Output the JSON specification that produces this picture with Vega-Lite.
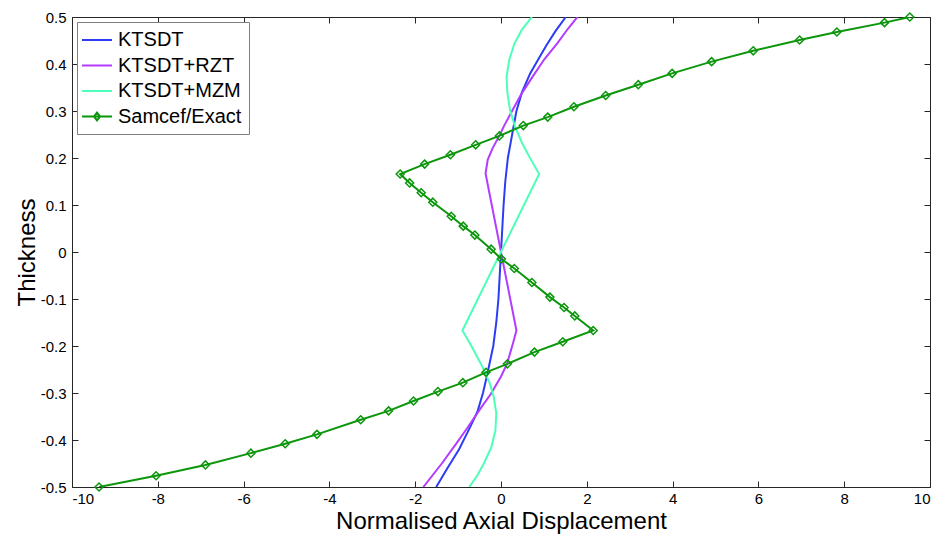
{
  "$schema": "https://vega.github.io/schema/vega-lite/v6.json",
  "width": 858,
  "height": 470,
  "autosize": {"type": "none"},
  "padding": {"left": 72, "top": 17, "right": 11, "bottom": 50},
  "background": "white",
  "config": {
    "font": "Liberation Sans",
    "view": {"stroke": null},
    "axis": {
      "domainColor": "#262626",
      "tickColor": "#262626",
      "grid": false,
      "labelColor": "#000000",
      "titleColor": "#000000",
      "labelFont": "Liberation Sans",
      "labelFontSize": 15,
      "titleFont": "Liberation Sans",
      "titleFontSize": 24,
      "titleFontWeight": "normal",
      "tickSize": -6,
      "domainWidth": 1,
      "tickWidth": 1
    }
  },
  "data": {
    "values": [
      {"s": "KTSDT", "o": 1, "y": -0.5, "x": -1.51},
      {"s": "KTSDT", "o": 2, "y": -0.46, "x": -1.25},
      {"s": "KTSDT", "o": 3, "y": -0.42, "x": -0.98},
      {"s": "KTSDT", "o": 4, "y": -0.38, "x": -0.76},
      {"s": "KTSDT", "o": 5, "y": -0.34, "x": -0.55},
      {"s": "KTSDT", "o": 6, "y": -0.3, "x": -0.42},
      {"s": "KTSDT", "o": 7, "y": -0.26, "x": -0.32},
      {"s": "KTSDT", "o": 8, "y": -0.2, "x": -0.18},
      {"s": "KTSDT", "o": 9, "y": -0.15, "x": -0.11},
      {"s": "KTSDT", "o": 10, "y": -0.1, "x": -0.06},
      {"s": "KTSDT", "o": 11, "y": -0.05, "x": -0.03},
      {"s": "KTSDT", "o": 12, "y": 0, "x": 0},
      {"s": "KTSDT", "o": 13, "y": 0.05, "x": 0.03},
      {"s": "KTSDT", "o": 14, "y": 0.1, "x": 0.06},
      {"s": "KTSDT", "o": 15, "y": 0.15, "x": 0.1},
      {"s": "KTSDT", "o": 16, "y": 0.2, "x": 0.16},
      {"s": "KTSDT", "o": 17, "y": 0.26, "x": 0.28},
      {"s": "KTSDT", "o": 18, "y": 0.3, "x": 0.36},
      {"s": "KTSDT", "o": 19, "y": 0.34, "x": 0.49},
      {"s": "KTSDT", "o": 20, "y": 0.38, "x": 0.68},
      {"s": "KTSDT", "o": 21, "y": 0.41, "x": 0.87},
      {"s": "KTSDT", "o": 22, "y": 0.44, "x": 1.06},
      {"s": "KTSDT", "o": 23, "y": 0.47, "x": 1.27},
      {"s": "KTSDT", "o": 24, "y": 0.5, "x": 1.51},

      {"s": "KTSDT+RZT", "o": 1, "y": -0.5, "x": -1.81},
      {"s": "KTSDT+RZT", "o": 2, "y": -0.45, "x": -1.38},
      {"s": "KTSDT+RZT", "o": 3, "y": -0.41, "x": -1.06},
      {"s": "KTSDT+RZT", "o": 4, "y": -0.375, "x": -0.79},
      {"s": "KTSDT+RZT", "o": 5, "y": -0.336, "x": -0.5},
      {"s": "KTSDT+RZT", "o": 6, "y": -0.301, "x": -0.23},
      {"s": "KTSDT+RZT", "o": 7, "y": -0.265, "x": 0.0},
      {"s": "KTSDT+RZT", "o": 8, "y": -0.238, "x": 0.14},
      {"s": "KTSDT+RZT", "o": 9, "y": -0.194, "x": 0.28},
      {"s": "KTSDT+RZT", "o": 10, "y": -0.167, "x": 0.36},
      {"s": "KTSDT+RZT", "o": 11, "y": 0.167, "x": -0.36},
      {"s": "KTSDT+RZT", "o": 12, "y": 0.196, "x": -0.31},
      {"s": "KTSDT+RZT", "o": 13, "y": 0.22, "x": -0.2},
      {"s": "KTSDT+RZT", "o": 14, "y": 0.247, "x": -0.04},
      {"s": "KTSDT+RZT", "o": 15, "y": 0.27, "x": 0.08},
      {"s": "KTSDT+RZT", "o": 16, "y": 0.302, "x": 0.27},
      {"s": "KTSDT+RZT", "o": 17, "y": 0.337, "x": 0.48},
      {"s": "KTSDT+RZT", "o": 18, "y": 0.372, "x": 0.73},
      {"s": "KTSDT+RZT", "o": 19, "y": 0.41, "x": 1.01},
      {"s": "KTSDT+RZT", "o": 20, "y": 0.445, "x": 1.32},
      {"s": "KTSDT+RZT", "o": 21, "y": 0.475, "x": 1.56},
      {"s": "KTSDT+RZT", "o": 22, "y": 0.5, "x": 1.78},

      {"s": "KTSDT+MZM", "o": 1, "y": -0.5, "x": -0.74},
      {"s": "KTSDT+MZM", "o": 2, "y": -0.475, "x": -0.55},
      {"s": "KTSDT+MZM", "o": 3, "y": -0.45, "x": -0.4},
      {"s": "KTSDT+MZM", "o": 4, "y": -0.414, "x": -0.22},
      {"s": "KTSDT+MZM", "o": 5, "y": -0.379, "x": -0.13},
      {"s": "KTSDT+MZM", "o": 6, "y": -0.343, "x": -0.11},
      {"s": "KTSDT+MZM", "o": 7, "y": -0.308, "x": -0.17},
      {"s": "KTSDT+MZM", "o": 8, "y": -0.28, "x": -0.26},
      {"s": "KTSDT+MZM", "o": 9, "y": -0.256, "x": -0.37},
      {"s": "KTSDT+MZM", "o": 10, "y": -0.236, "x": -0.48},
      {"s": "KTSDT+MZM", "o": 11, "y": -0.2, "x": -0.69},
      {"s": "KTSDT+MZM", "o": 12, "y": -0.167, "x": -0.9},
      {"s": "KTSDT+MZM", "o": 13, "y": 0.166, "x": 0.89},
      {"s": "KTSDT+MZM", "o": 14, "y": 0.196, "x": 0.7},
      {"s": "KTSDT+MZM", "o": 15, "y": 0.232, "x": 0.49},
      {"s": "KTSDT+MZM", "o": 16, "y": 0.266, "x": 0.33},
      {"s": "KTSDT+MZM", "o": 17, "y": 0.302, "x": 0.21},
      {"s": "KTSDT+MZM", "o": 18, "y": 0.338, "x": 0.15},
      {"s": "KTSDT+MZM", "o": 19, "y": 0.372, "x": 0.13},
      {"s": "KTSDT+MZM", "o": 20, "y": 0.408, "x": 0.19},
      {"s": "KTSDT+MZM", "o": 21, "y": 0.443, "x": 0.31},
      {"s": "KTSDT+MZM", "o": 22, "y": 0.472, "x": 0.48},
      {"s": "KTSDT+MZM", "o": 23, "y": 0.5, "x": 0.72},

      {"s": "Samcef/Exact", "o": 1, "x": 9.53, "y": 0.5},
      {"s": "Samcef/Exact", "o": 2, "x": 8.94, "y": 0.488},
      {"s": "Samcef/Exact", "o": 3, "x": 7.83, "y": 0.468},
      {"s": "Samcef/Exact", "o": 4, "x": 6.96, "y": 0.451},
      {"s": "Samcef/Exact", "o": 5, "x": 5.88, "y": 0.428},
      {"s": "Samcef/Exact", "o": 6, "x": 4.91, "y": 0.405},
      {"s": "Samcef/Exact", "o": 7, "x": 3.99, "y": 0.38},
      {"s": "Samcef/Exact", "o": 8, "x": 3.2, "y": 0.356},
      {"s": "Samcef/Exact", "o": 9, "x": 2.44, "y": 0.333},
      {"s": "Samcef/Exact", "o": 10, "x": 1.7, "y": 0.309},
      {"s": "Samcef/Exact", "o": 11, "x": 1.09, "y": 0.287},
      {"s": "Samcef/Exact", "o": 12, "x": 0.52, "y": 0.269},
      {"s": "Samcef/Exact", "o": 13, "x": -0.04, "y": 0.247},
      {"s": "Samcef/Exact", "o": 14, "x": -0.59, "y": 0.228},
      {"s": "Samcef/Exact", "o": 15, "x": -1.18, "y": 0.207},
      {"s": "Samcef/Exact", "o": 16, "x": -1.78, "y": 0.187},
      {"s": "Samcef/Exact", "o": 17, "x": -2.35, "y": 0.166},
      {"s": "Samcef/Exact", "o": 18, "x": -2.13, "y": 0.147},
      {"s": "Samcef/Exact", "o": 19, "x": -1.86, "y": 0.126},
      {"s": "Samcef/Exact", "o": 20, "x": -1.59, "y": 0.106},
      {"s": "Samcef/Exact", "o": 21, "x": -1.16, "y": 0.076},
      {"s": "Samcef/Exact", "o": 22, "x": -0.88, "y": 0.055},
      {"s": "Samcef/Exact", "o": 23, "x": -0.61, "y": 0.036},
      {"s": "Samcef/Exact", "o": 24, "x": -0.23, "y": 0.006},
      {"s": "Samcef/Exact", "o": 25, "x": 0.01, "y": -0.015},
      {"s": "Samcef/Exact", "o": 26, "x": 0.31, "y": -0.035},
      {"s": "Samcef/Exact", "o": 27, "x": 0.72, "y": -0.065},
      {"s": "Samcef/Exact", "o": 28, "x": 1.14, "y": -0.096},
      {"s": "Samcef/Exact", "o": 29, "x": 1.47, "y": -0.118},
      {"s": "Samcef/Exact", "o": 30, "x": 1.72, "y": -0.136},
      {"s": "Samcef/Exact", "o": 31, "x": 2.15, "y": -0.167},
      {"s": "Samcef/Exact", "o": 32, "x": 1.44, "y": -0.191},
      {"s": "Samcef/Exact", "o": 33, "x": 0.78, "y": -0.213},
      {"s": "Samcef/Exact", "o": 34, "x": 0.15, "y": -0.238},
      {"s": "Samcef/Exact", "o": 35, "x": -0.35, "y": -0.256},
      {"s": "Samcef/Exact", "o": 36, "x": -0.89, "y": -0.278},
      {"s": "Samcef/Exact", "o": 37, "x": -1.47, "y": -0.297},
      {"s": "Samcef/Exact", "o": 38, "x": -2.04, "y": -0.317},
      {"s": "Samcef/Exact", "o": 39, "x": -2.62, "y": -0.338},
      {"s": "Samcef/Exact", "o": 40, "x": -3.27, "y": -0.357},
      {"s": "Samcef/Exact", "o": 41, "x": -4.29, "y": -0.388},
      {"s": "Samcef/Exact", "o": 42, "x": -5.03, "y": -0.408},
      {"s": "Samcef/Exact", "o": 43, "x": -5.83, "y": -0.428},
      {"s": "Samcef/Exact", "o": 44, "x": -6.89, "y": -0.453},
      {"s": "Samcef/Exact", "o": 45, "x": -8.04, "y": -0.476},
      {"s": "Samcef/Exact", "o": 46, "x": -9.37, "y": -0.5}
    ]
  },
  "layer": [
    {
      "mark": {"type": "line", "strokeWidth": 2, "clip": true},
      "encoding": {
        "x": {
          "field": "x", "type": "quantitative",
          "scale": {"domain": [-10, 10], "nice": false, "zero": false},
          "axis": {
            "values": [-10, -8, -6, -4, -2, 0, 2, 4, 6, 8, 10],
            "title": "Normalised Axial Displacement",
            "labelPadding": 10,
            "titlePadding": 3,
            "labelExpr": "replace(datum.label, '\u2212', '-')"
          }
        },
        "y": {
          "field": "y", "type": "quantitative",
          "scale": {"domain": [-0.5, 0.5], "nice": false, "zero": false},
          "axis": {
            "values": [-0.5, -0.4, -0.3, -0.2, -0.1, 0, 0.1, 0.2, 0.3, 0.4, 0.5],
            "title": "Thickness",
            "format": ".1~f",
            "labelPadding": 12,
            "titlePadding": 1,
            "labelExpr": "replace(datum.label, '\u2212', '-')"
          }
        },
        "color": {
          "field": "s", "type": "nominal",
          "scale": {
            "domain": ["KTSDT", "KTSDT+RZT", "KTSDT+MZM", "Samcef/Exact"],
            "range": ["#2b3df5", "#b23cff", "#4dffb8", "#0b960b"]
          },
          "legend": {
            "orient": "top-left",
            "offset": 5,
            "title": null,
            "strokeColor": "#7f7f7f",
            "fillColor": "white",
            "padding": 7,
            "labelFont": "Liberation Sans",
            "labelFontSize": 20,
            "labelColor": "#000000",
            "symbolSize": 400,
            "symbolOffset": 2,
            "symbolStrokeWidth": 2,
            "symbolType": "M-1.5,0H1.5",
            "rowPadding": 4.5,
            "labelOffset": 10,
            "encode": {
              "symbols": {
                "update": {
                  "shape": {"signal": "datum.value === 'Samcef/Exact' ? 'M-1.5,0H1.5M0,-0.38L0.3,0L0,0.38L-0.3,0Z' : 'M-1.5,0H1.5'"}
                }
              }
            }
          }
        },
        "order": {"field": "o", "type": "quantitative"}
      }
    },
    {
      "transform": [{"filter": "datum.s === 'Samcef/Exact'"}],
      "mark": {"type": "point", "shape": "diamond", "filled": false, "color": "#0b960b", "size": 64, "strokeWidth": 1.5, "opacity": 1},
      "encoding": {
        "x": {
          "field": "x", "type": "quantitative",
          "scale": {"domain": [-10, 10], "nice": false, "zero": false},
          "axis": {"orient": "top", "values": [-10, -8, -6, -4, -2, 0, 2, 4, 6, 8, 10], "labels": false, "title": null}
        },
        "y": {
          "field": "y", "type": "quantitative",
          "scale": {"domain": [-0.5, 0.5], "nice": false, "zero": false},
          "axis": {"orient": "right", "values": [-0.5, -0.4, -0.3, -0.2, -0.1, 0, 0.1, 0.2, 0.3, 0.4, 0.5], "labels": false, "title": null}
        }
      }
    }
  ],
  "resolve": {"axis": {"x": "independent", "y": "independent"}}
}
